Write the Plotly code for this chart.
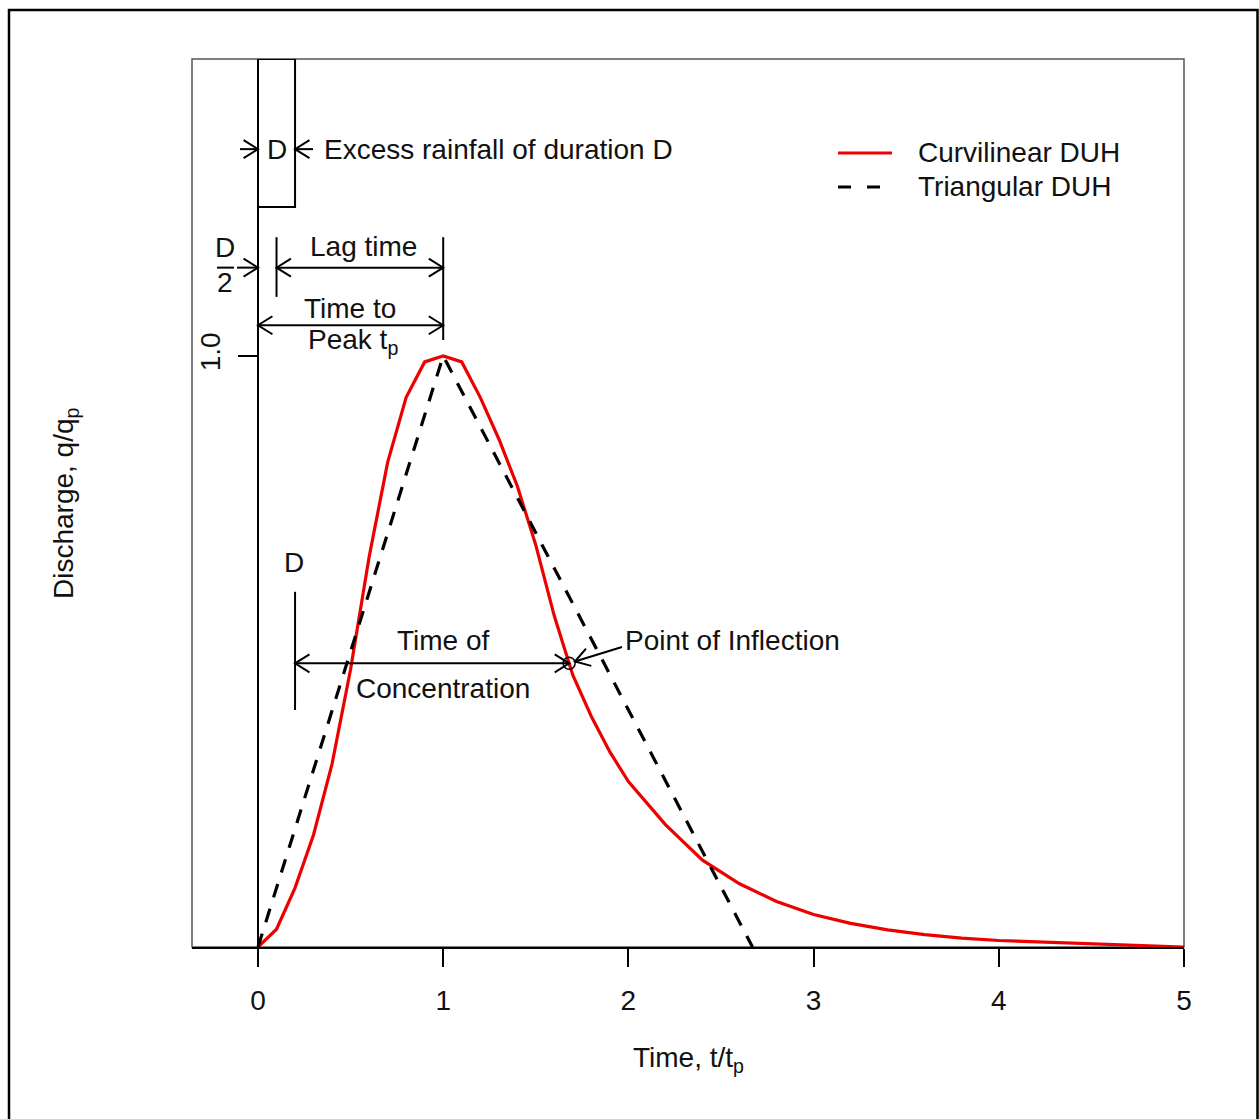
import math
import plotly.graph_objects as go

# ---------------- data ----------------
T_CURVE = [0.0, 0.1, 0.2, 0.3, 0.4, 0.5, 0.6, 0.7, 0.8, 0.9, 1.0, 1.1, 1.2, 1.3,
           1.4, 1.5, 1.6, 1.7, 1.8, 1.9, 2.0, 2.2, 2.4, 2.6, 2.8, 3.0, 3.2, 3.4,
           3.6, 3.8, 4.0, 4.5, 5.0]
Q_CURVE = [0.0, 0.03, 0.10, 0.19, 0.31, 0.47, 0.66, 0.82, 0.93, 0.99, 1.00, 0.99,
           0.93, 0.86, 0.78, 0.68, 0.56, 0.46, 0.39, 0.33, 0.28, 0.207, 0.147,
           0.107, 0.077, 0.055, 0.040, 0.029, 0.021, 0.015, 0.011, 0.005, 0.0]
T_TRI = [0.0, 1.0, 2.67]
Q_TRI = [0.0, 1.0, 0.0]
T_INFLECT = [1.68]
Q_INFLECT = [0.48]
SERIES_NAMES = ["Curvilinear DUH", "Triangular DUH"]
X_TICKS = [0, 1, 2, 3, 4, 5]
X_TICK_TEXT = ["0", "1", "2", "3", "4", "5"]
Y_TICKS = [1.0]
Y_TICK_TEXT = ["1.0"]
DURATION = 0.2      # rainfall duration D (t/tp units)
LAG_START = 0.1     # D/2
T_PEAK = 1.0

# ---------------- geometry ----------------
W, H = 1259, 1119
ML, MR, MT, MB = 192, 75, 59, 172
X_MIN, X_MAX = -0.3564, 5.0
Y_MIN, Y_MAX = 0.0, 1.5025
SX = (W - ML - MR) / (X_MAX - X_MIN)   # px per x unit
SY = (H - MT - MB) / (Y_MAX - Y_MIN)   # px per y unit

FONT = "Liberation Sans, Arial, sans-serif"
FS = 28
TXT = "#111111"
LW = 2

shapes = []
annotations = []


def line(x0, y0, x1, y1, width=LW, color="black", dash=None, layer="above"):
    d = dict(type="line", xref="x", yref="y", x0=x0, y0=y0, x1=x1, y1=y1,
             line=dict(color=color, width=width), layer=layer)
    if dash:
        d["line"]["dash"] = dash
    shapes.append(d)


def head(xt, yt, xf, yf, L=17, ang=32):
    # V-shaped open head at tip (xt, yt), coming from (xf, yf)
    bx, by = (xf - xt) * SX, (yf - yt) * SY
    n = math.hypot(bx, by)
    bx, by = bx / n, by / n
    pts = []
    for s in (1, -1):
        a = math.radians(ang) * s
        rx = bx * math.cos(a) - by * math.sin(a)
        ry = bx * math.sin(a) + by * math.cos(a)
        pts.append((xt + rx * L / SX, yt + ry * L / SY))
    path = "M {:.5f},{:.5f} L {:.5f},{:.5f} L {:.5f},{:.5f}".format(
        pts[0][0], pts[0][1], xt, yt, pts[1][0], pts[1][1])
    shapes.append(dict(type="path", xref="x", yref="y", path=path,
                       line=dict(color="black", width=LW), layer="above"))


def arrow(x0, y0, x1, y1, both=False):
    line(x0, y0, x1, y1)
    head(x1, y1, x0, y0)
    if both:
        head(x0, y0, x1, y1)


def text(x, y, s, xanchor="center", size=FS, angle=0, xref="x", yref="y"):
    annotations.append(dict(x=x, y=y, xref=xref, yref=yref, text=s,
                            showarrow=False, xanchor=xanchor, yanchor="middle",
                            textangle=angle,
                            font=dict(family=FONT, size=size, color=TXT)))


# ---------------- traces ----------------
fig = go.Figure()
fig.add_trace(go.Scatter(x=T_CURVE, y=Q_CURVE, mode="lines", name=SERIES_NAMES[0],
                         line=dict(color="#ee0000", width=3.2), showlegend=False))
fig.add_trace(go.Scatter(x=T_TRI, y=Q_TRI, mode="lines", name=SERIES_NAMES[1],
                         line=dict(color="black", width=3.2, dash="14px,12px"),
                         showlegend=False))
fig.add_trace(go.Scatter(x=T_INFLECT, y=Q_INFLECT, mode="markers", name="Point of Inflection",
                         marker=dict(symbol="circle-open", size=12, color="black",
                                     line=dict(width=1.5, color="black")),
                         showlegend=False))

# ---------------- decorations ----------------
# plot box
shapes.append(dict(type="rect", xref="paper", yref="paper", x0=0, y0=0, x1=1, y1=1,
                   line=dict(color="#555555", width=1.5), layer="below"))
# outer frame
shapes.append(dict(type="rect", xref="paper", yref="paper",
                   x0=(9 - ML) / (W - ML - MR), x1=(1257.5 - ML) / (W - ML - MR),
                   y0=(H - MB - 1130) / (H - MT - MB), y1=(H - MB - 10) / (H - MT - MB),
                   line=dict(color="black", width=2.5), layer="below"))
# rainfall block
shapes.append(dict(type="rect", xref="x", yref="y", x0=0, x1=DURATION, y0=1.252, y1=Y_MAX,
                   line=dict(color="black", width=LW), layer="above"))
y_d = 1.350
arrow(-0.097, y_d, 0.0, y_d)
arrow(0.297, y_d, DURATION, y_d)
text(DURATION / 2, y_d, "D")
text(0.343, y_d, "Excess rainfall of duration D", xanchor="left")

# D/2 and lag time
y_lag = 1.1495
text(-0.177, 1.183, "D")
text(-0.177, 1.124, "2")
line(-0.2214, y_lag, -0.1296, y_lag)
arrow(-0.113, y_lag, 0.0, y_lag)
line(LAG_START, 1.201, LAG_START, 1.100)
line(T_PEAK, 1.201, T_PEAK, 1.027)
arrow(LAG_START, y_lag, T_PEAK, y_lag, both=True)
text(0.567, 1.186, "Lag time")

# time to peak
y_tp = 1.052
arrow(0.0, y_tp, T_PEAK, y_tp, both=True)
text(0.497, 1.081, "Time to")
text(0.513, 1.024, "Peak t<sub>p</sub>")

# time of concentration
y_tc = Q_INFLECT[0]
text(0.195, 0.650, "D")
line(DURATION, 0.601, DURATION, 0.401)
arrow(DURATION, y_tc, T_INFLECT[0], y_tc, both=True)
text(1.0, 0.519, "Time of")
text(0.997, 0.438, "Concentration")

# point of inflection
arrow(1.9654, 0.5076, 1.711, 0.4831)
text(1.970, 0.519, "Point of Inflection", xanchor="left")

# legend (manual, R style)
x_l0 = (838 - ML) / SX + X_MIN
line(x_l0, 1.3435, x_l0 + 54 / SX, 1.3435, width=3, color="#ee0000")
line(x_l0, 1.286, x_l0 + 43 / SX, 1.286, width=3, color="black", dash="13px,16px")
text(x_l0 + 78 / SX, 1.3435, SERIES_NAMES[0], xanchor="left")
text(x_l0 + 78 / SX, 1.286, SERIES_NAMES[1], xanchor="left")

# axis titles
text(0.5, -0.127, "Time, t/t<sub>p</sub>", xref="paper", yref="paper")
text((65 - ML) / (W - ML - MR), 0.50, "Discharge, q/q<sub>p</sub>", angle=-90,
     xref="paper", yref="paper")

fig.update_layout(
    width=W, height=H,
    margin=dict(l=ML, r=MR, t=MT, b=MB, pad=0),
    paper_bgcolor="white", plot_bgcolor="white",
    font=dict(family=FONT, size=FS, color=TXT),
    showlegend=False,
    shapes=shapes, annotations=annotations,
    xaxis=dict(range=[X_MIN, X_MAX], showgrid=False, zeroline=False,
               showline=True, linecolor="black", linewidth=2,
               ticks="outside", ticklen=18, tickwidth=2, tickcolor="black",
               tickvals=X_TICKS, ticktext=X_TICK_TEXT,
               tickfont=dict(family=FONT, size=FS, color=TXT),
               ticklabelstandoff=9),
    yaxis=dict(range=[Y_MIN, Y_MAX], showgrid=False, zeroline=False,
               anchor="free", position=(0 - X_MIN) / (X_MAX - X_MIN),
               showline=True, linecolor="black", linewidth=2,
               ticks="outside", ticklen=19, tickwidth=2, tickcolor="black",
               tickvals=Y_TICKS, ticktext=Y_TICK_TEXT, tickangle=-90,
               tickfont=dict(family=FONT, size=FS, color=TXT),
               ticklabelstandoff=7),
)

fig.write_html("out.html")
